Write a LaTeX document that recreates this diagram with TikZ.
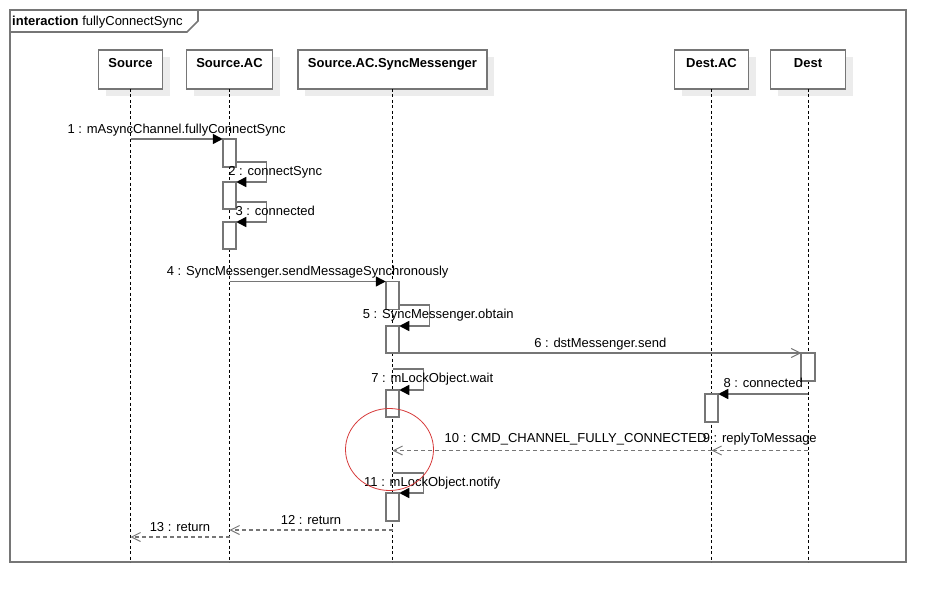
\documentclass[tikz,border=0pt]{standalone}
\usepackage{fontspec}
\setmainfont{Liberation Sans}
\usetikzlibrary{arrows.meta,shadows}
\definecolor{gris}{RGB}{118,118,118}
\definecolor{ombre}{RGB}{236,236,236}
\definecolor{rouge}{RGB}{214,58,58}
\begin{document}
\begin{tikzpicture}[x=1pt,y=-1pt]
% Styles
\tikzstyle{cadre}=[draw=gris,line width=1.7pt]
\tikzstyle{objet}=[draw=gris,line width=1.6pt,fill=white,minimum height=39pt,inner sep=0pt,outer sep=0pt,drop shadow={shadow xshift=7pt,shadow yshift=-7pt,fill=ombre,opacity=1}]
\tikzstyle{nom}=[font=\fontsize{13}{15}\selectfont\bfseries,inner sep=0pt,anchor=base]
\tikzstyle{vie}=[dash pattern=on 3pt off 2.5pt,line width=1pt]
\tikzstyle{activ}=[draw=gris,line width=1.6pt,fill=white,minimum width=13.5pt,minimum height=28pt,inner sep=0pt,outer sep=0pt,anchor=north]
\tikzstyle{appel}=[draw=gris,line width=1.5pt,-{Triangle[length=10pt,width=10pt,color=black]}]
\tikzstyle{envoi}=[draw=gris,line width=1.5pt,-{Straight Barb[length=9pt,width=9pt,line width=1pt]}]
\tikzstyle{retour}=[envoi,dash pattern=on 4pt off 3pt]
\tikzstyle{titre}=[font=\fontsize{13}{15}\selectfont,inner sep=0pt,anchor=base,yshift=6pt]
\tikzstyle{boucle}=[font=\fontsize{13}{15}\selectfont,inner sep=0pt,anchor=base,xshift=9pt,yshift=-3.3pt]
% Abscisses des lignes de vie
\def\xSrc{130.5}
\def\xSac{229.5}
\def\xSm{392.5}
\def\xDac{711.5}
\def\xDst{808}
\def\bas{562}
\useasboundingbox (0,0) rectangle (946,602);
% Cadre de l'interaction
\draw[cadre] (10,10) rectangle (906,\bas);
\draw[cadre] (10,32) -- (187,32) -- (198,21) -- (198,10);
\node[anchor=base west,inner sep=0pt,font=\fontsize{13}{15}\selectfont] (inter) at (12,25.7) {\textbf{interaction} fullyConnectSync};
% Objets
\node[objet,minimum width=64pt] (src) at (\xSrc,69.5) {};
\node[objet,minimum width=86pt] (sac) at (\xSac,69.5) {};
\node[objet,minimum width=189pt] (sm) at (\xSm,69.5) {};
\node[objet,minimum width=74pt] (dac) at (\xDac,69.5) {};
\node[objet,minimum width=75pt] (dst) at (\xDst,69.5) {};
\node[nom] (srcnom) at ([yshift=-17.5pt]src.north) {Source};
\node[nom] (sacnom) at ([yshift=-17.5pt]sac.north) {Source.AC};
\node[nom] (smnom) at ([yshift=-17.5pt]sm.north) {Source.AC.SyncMessenger};
\node[nom] (dacnom) at ([yshift=-17.5pt]dac.north) {Dest.AC};
\node[nom] (dstnom) at ([yshift=-17.5pt]dst.north) {Dest};
% Lignes de vie
\draw[vie] (src.south) -- (\xSrc,\bas);
\draw[vie] (sac.south) -- (\xSac,\bas);
\draw[vie] (sm.south) -- (\xSm,\bas);
\draw[vie] (dac.south) -- (\xDac,\bas);
\draw[vie] (dst.south) -- (\xDst,\bas);
% Activations
\node[activ] (a1) at (\xSac,139) {};
\node[activ,minimum height=27pt] (a2) at (\xSac,182) {};
\node[activ,minimum height=27pt] (a3) at (\xSac,222) {};
\node[activ] (a4) at (\xSm,281.5) {};
\node[activ,minimum height=27pt] (a5) at (\xSm,326) {};
\node[activ] (a6) at (\xDst,353) {};
\node[activ,minimum height=27pt] (a7) at (\xSm,390) {};
\node[activ] (a8) at (\xDac,394) {};
\node[activ] (a11) at (\xSm,493) {};
% Lignes des messages
\coordinate (y7) at (0,369);
\coordinate (y9) at (0,450.5);
\coordinate (y11) at (0,473);
\coordinate (y12) at (0,530);
\coordinate (y13) at (0,537);
% Messages
\draw[appel] (src |- a1.north) -- (a1.north west) node[titre,midway] {1 : mAsyncChannel.fullyConnectSync};
\draw[appel] ([yshift=5pt]a1.south east) -| ([xshift=30pt]a2.north east) node[boucle,pos=0.75] {2 : connectSync} -- (a2.north east);
\draw[appel] ([yshift=7pt]a2.south east) -| ([xshift=30pt]a3.north east) node[boucle,pos=0.75] {3 : connected} -- (a3.north east);
\draw[appel] (sac |- a4.north) -- (a4.north west) node[titre,midway] {4 : SyncMessenger.sendMessageSynchronously};
\draw[appel] ([yshift=4.3pt]a4.south east) -| ([xshift=30pt]a5.north east) node[boucle,pos=0.75] {5 : SyncMessenger.obtain} -- (a5.north east);
\draw[envoi] (a5.south east) -- (a6.north west) node[titre,midway] {6 : dstMessenger.send};
\draw[appel] (sm |- y7) -| ([xshift=24pt]a7.north east) node[boucle,pos=0.75] {7 : mLockObject.wait} -- (a7.north east);
\draw[appel] (dst |- a8.north) -- (a8.north east) node[titre,midway,yshift=1pt] {8 : connected};
\draw[retour] (dst |- y9) -- (dac |- y9) node[titre,midway,yshift=2pt] {9 : replyToMessage};
\draw[retour] (dac |- y9) -- (sm |- y9) node[titre,pos=0.426,yshift=2pt] {10 : CMD\_CHANNEL\_FULLY\_CONNECTED};
\draw[appel] (sm |- y11) -| ([xshift=24pt]a11.north east) node[boucle,pos=0.75] {11 : mLockObject.notify} -- (a11.north east);
\draw[retour] (sm |- y12) -- (sac |- y12) node[titre,midway] {12 : return};
\draw[retour] (sac |- y13) -- (src |- y13) node[titre,midway] {13 : return};
% Cercle rouge
\draw[rouge,line width=0.8pt] (389.5,449.5) ellipse [x radius=44, y radius=41];
\end{tikzpicture}
\end{document}
